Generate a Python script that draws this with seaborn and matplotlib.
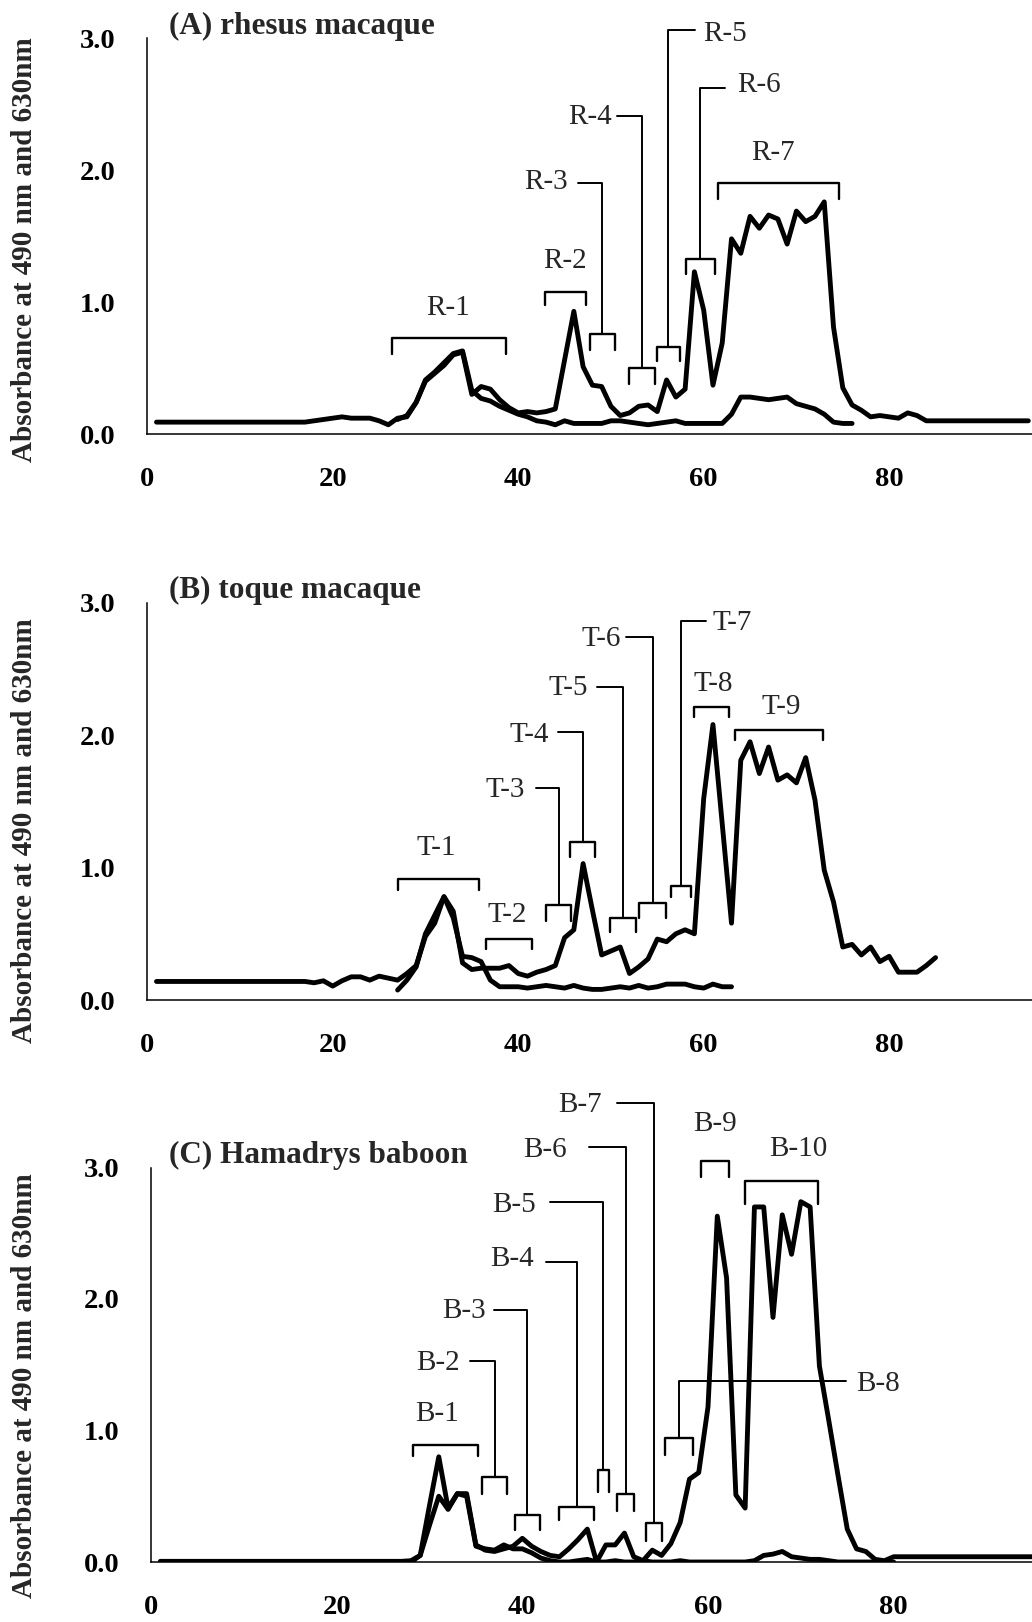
import matplotlib
matplotlib.use("Agg")
import matplotlib.pyplot as plt
import numpy as np
import pandas as pd
import seaborn as sns

# ---------------- data (fraction number vs absorbance) ----------------
# Panel A: rhesus macaque
a_x_490 = list(range(1, 96))
a_y_490 = [0.09, 0.09, 0.09, 0.09, 0.09, 0.09, 0.09, 0.09, 0.09, 0.09,
           0.09, 0.09, 0.09, 0.09, 0.09, 0.09, 0.09, 0.10, 0.11, 0.12,
           0.13, 0.12, 0.12, 0.12, 0.10, 0.07, 0.12, 0.13, 0.24, 0.40,
           0.46, 0.52, 0.60, 0.62, 0.30, 0.36, 0.34, 0.26, 0.20, 0.16,
           0.17, 0.16, 0.17, 0.19, 0.56, 0.93, 0.51, 0.37, 0.36, 0.21,
           0.14, 0.16, 0.21, 0.22, 0.17, 0.41, 0.28, 0.34, 1.23, 0.94,
           0.37, 0.69, 1.48, 1.37, 1.65, 1.56, 1.66, 1.63, 1.44, 1.69,
           1.61, 1.65, 1.76, 0.81, 0.35, 0.22, 0.18, 0.13, 0.14, 0.13,
           0.12, 0.16, 0.14, 0.10, 0.10, 0.10, 0.10, 0.10, 0.10, 0.10,
           0.10, 0.10, 0.10, 0.10, 0.10]
a_x_630 = list(range(27, 77))
a_y_630 = [0.11, 0.14, 0.24, 0.41, 0.47, 0.54, 0.61, 0.63, 0.33, 0.27,
           0.25, 0.21, 0.18, 0.15, 0.13, 0.10, 0.09, 0.07, 0.10, 0.08,
           0.08, 0.08, 0.08, 0.10, 0.10, 0.09, 0.08, 0.07, 0.08, 0.09,
           0.10, 0.08, 0.08, 0.08, 0.08, 0.08, 0.15, 0.28, 0.28, 0.27,
           0.26, 0.27, 0.28, 0.23, 0.21, 0.19, 0.15, 0.09, 0.08, 0.08]

# Panel B: toque macaque
b_x_490 = list(range(1, 86))
b_y_490 = [0.14, 0.14, 0.14, 0.14, 0.14, 0.14, 0.14, 0.14, 0.14, 0.14,
           0.14, 0.14, 0.14, 0.14, 0.14, 0.14, 0.14, 0.13, 0.145, 0.105,
           0.145, 0.175, 0.175, 0.15, 0.18, 0.165, 0.15, 0.20, 0.26, 0.48,
           0.58, 0.78, 0.67, 0.28, 0.23, 0.24, 0.24, 0.24, 0.26, 0.20,
           0.18, 0.21, 0.23, 0.26, 0.47, 0.53, 1.03, 0.68, 0.34, 0.37,
           0.40, 0.20, 0.25, 0.31, 0.46, 0.44, 0.50, 0.53, 0.50, 1.52,
           2.08, 1.33, 0.58, 1.81, 1.95, 1.71, 1.91, 1.66, 1.70, 1.64,
           1.83, 1.51, 0.98, 0.74, 0.40, 0.42, 0.34, 0.40, 0.29, 0.33,
           0.21, 0.21, 0.21, 0.26, 0.32]
b_x_630 = list(range(27, 64))
b_y_630 = [0.075, 0.15, 0.25, 0.50, 0.64, 0.78, 0.62, 0.33, 0.32, 0.29,
           0.15, 0.10, 0.10, 0.10, 0.09, 0.10, 0.11, 0.10, 0.09, 0.11,
           0.09, 0.08, 0.08, 0.09, 0.10, 0.09, 0.11, 0.09, 0.10, 0.12,
           0.12, 0.12, 0.10, 0.09, 0.12, 0.10, 0.10]

# Panel C: Hamadrys baboon
c_x_490 = list(range(1, 96))
c_y_490 = [0.005, 0.005, 0.005, 0.005, 0.005, 0.005, 0.005, 0.005, 0.005, 0.005,
           0.005, 0.005, 0.005, 0.005, 0.005, 0.005, 0.005, 0.005, 0.005, 0.005,
           0.005, 0.005, 0.005, 0.005, 0.005, 0.005, 0.005, 0.01, 0.05, 0.43,
           0.80, 0.41, 0.52, 0.52, 0.13, 0.09, 0.08, 0.10, 0.12, 0.18,
           0.12, 0.08, 0.05, 0.04, 0.10, 0.17, 0.25, 0.00, 0.13, 0.13,
           0.22, 0.04, 0.01, 0.09, 0.05, 0.14, 0.30, 0.63, 0.68, 1.18,
           2.63, 2.16, 0.51, 0.41, 2.70, 2.70, 1.86, 2.64, 2.34, 2.74,
           2.70, 1.49, 1.08, 0.66, 0.25, 0.10, 0.08, 0.02, 0.01, 0.04,
           0.04, 0.04, 0.04, 0.04, 0.04, 0.04, 0.04, 0.04, 0.04, 0.04,
           0.04, 0.04, 0.04, 0.04, 0.04]
c_x_630 = list(range(22, 81))
c_y_630 = [0.00, 0.00, 0.00, 0.00, 0.00, 0.00, 0.00, 0.05, 0.28, 0.50,
           0.40, 0.52, 0.50, 0.12, 0.10, 0.09, 0.13, 0.10, 0.10, 0.07,
           0.03, 0.01, 0.00, 0.00, 0.01, 0.02, 0.00, 0.00, 0.01, 0.00,
           0.00, 0.01, 0.00, 0.00, 0.00, 0.01, 0.00, 0.00, 0.00, 0.00,
           0.00, 0.00, 0.00, 0.01, 0.05, 0.06, 0.08, 0.04, 0.03, 0.02,
           0.02, 0.01, 0.00, 0.00, 0.00, 0.00, 0.00, 0.00, 0.00]

panel_titles = ["(A) rhesus macaque", "(B) toque macaque", "(C) Hamadrys baboon"]
y_label = "Absorbance at 490 nm and 630nm"
y_ticks = [0, 1, 2, 3]
y_tick_labels = ["0.0", "1.0", "2.0", "3.0"]
x_ticks = [0, 20, 40, 60, 80]
x_tick_labels = ["0", "20", "40", "60", "80"]

# fraction labels: (text, bracket x0, bracket x1, bracket top y, depth, kind, ...)
#  kind 'top'   -> label centred above: (label x, label baseline y)
#  kind 'left'/'right' -> leader: (leader y, leader end x, label x, label baseline y)
a_marks = [
    ("R-1", 26.4, 38.7, 0.725, 0.115, "top", 32.4, 0.90),
    ("R-2", 42.9, 47.3, 1.08, 0.10, "top", 45.0, 1.256),
    ("R-3", 47.7, 50.4, 0.76, 0.12, "left", 1.90, 46.5, 45.4, 1.855),
    ("R-4", 52.0, 54.7, 0.50, 0.12, "left", 2.41, 50.7, 50.1, 2.35),
    ("R-5", 55.0, 57.4, 0.66, 0.11, "right", 3.06, 59.1, 59.9, 2.98),
    ("R-6", 58.1, 61.2, 1.33, 0.12, "right", 2.62, 62.3, 63.65, 2.595),
    ("R-7", 61.5, 74.6, 1.90, 0.12, "top", 67.5, 2.08),
]
b_marks = [
    ("T-1", 27.0, 35.8, 0.91, 0.08, "top", 31.2, 1.095),
    ("T-2", 36.5, 41.5, 0.46, 0.075, "top", 38.8, 0.59),
    ("T-3", 43.05, 45.65, 0.72, 0.12, "left", 1.60, 41.9, 40.7, 1.535),
    ("T-4", 45.6, 48.3, 1.19, 0.11, "left", 2.02, 44.3, 43.3, 1.95),
    ("T-5", 49.9, 52.75, 0.62, 0.11, "left", 2.36, 48.5, 47.5, 2.30),
    ("T-6", 53.05, 55.95, 0.73, 0.11, "left", 2.74, 51.6, 51.1, 2.67),
    ("T-7", 56.5, 58.6, 0.86, 0.08, "right", 2.86, 60.2, 60.9, 2.795),
    ("T-8", 59.0, 62.7, 2.215, 0.08, "top", 61.0, 2.336),
    ("T-9", 63.4, 72.9, 2.04, 0.08, "top", 68.4, 2.16),
]
c_marks = [
    ("B-1", 28.2, 35.2, 0.886, 0.08, "top", 30.8, 1.07),
    ("B-2", 35.7, 38.4, 0.645, 0.125, "left", 1.53, 34.4, 33.3, 1.46),
    ("B-3", 39.2, 41.9, 0.36, 0.12, "left", 1.92, 36.9, 36.1, 1.855),
    ("B-4", 44.0, 47.75, 0.42, 0.10, "left", 2.283, 42.5, 41.3, 2.25),
    ("B-5", 48.1, 49.3, 0.70, 0.165, "left", 2.736, 43.0, 41.45, 2.66),
    ("B-6", 50.25, 52.05, 0.515, 0.125, "left", 3.158, 47.2, 44.8, 3.08),
    ("B-7", 53.3, 55.0, 0.296, 0.135, "left", 3.492, 50.2, 48.6, 3.42),
    ("B-8", 55.4, 58.4, 0.94, 0.125, "right", 1.375, 74.9, 76.0, 1.30),
    ("B-9", 59.2, 62.3, 3.05, 0.12, "top", 60.8, 3.28),
    ("B-10", 64.0, 71.8, 2.90, 0.18, "top", 69.7, 3.09),
]

# ---------------- styling ----------------
sns.set_theme(style="white")
plt.rcParams["font.family"] = ["Liberation Serif", "DejaVu Serif"]
plt.rcParams["lines.solid_joinstyle"] = "round"
plt.rcParams["lines.solid_capstyle"] = "round"

W, H = 1032, 1622
fig = plt.figure(figsize=(W / 100, H / 100), dpi=100)
fig.patch.set_facecolor("white")

# (left px, y0 px, y3 px, xmax, title x, ylabel centre px)
layouts = [
    (147.2, 434.0, 38.3, 95.4, 2.3, 250),
    (147.2, 1000.0, 602.7, 95.4, 2.3, 831),
    (151.0, 1562.0, 1167.5, 94.9, 1.9, 1386),
]

series = [
    (a_x_490, a_y_490, a_x_630, a_y_630, a_marks),
    (b_x_490, b_y_490, b_x_630, b_y_630, b_marks),
    (c_x_490, c_y_490, c_x_630, c_y_630, c_marks),
]

ANN_FS = 21
for i, ((lpx, y0px, y3px, xmax, tx, ylc), (x1, y1, x2, y2, marks)) in enumerate(zip(layouts, series)):
    rect = [lpx / W, 1 - y0px / H, 1 - lpx / W, (y0px - y3px) / H]
    ax = fig.add_axes(rect)
    ax.set_facecolor("none")
    df = pd.concat([
        pd.DataFrame({"fraction": x1, "absorbance": y1, "wavelength": "490 nm"}),
        pd.DataFrame({"fraction": x2, "absorbance": y2, "wavelength": "630 nm"}),
    ], ignore_index=True)
    sns.lineplot(data=df, x="fraction", y="absorbance", hue="wavelength",
                 palette=["black", "black"], estimator=None, sort=False,
                 linewidth=3.5, legend=False, ax=ax, zorder=3)
    ax.set_xlim(0, xmax)
    ax.set_ylim(0, 3)
    ax.set_xlabel("")
    ax.set_ylabel("")
    ax.set_xticks(x_ticks)
    ax.set_xticklabels(x_tick_labels, fontweight="bold", fontsize=20.5)
    ax.set_yticks(y_ticks)
    ax.set_yticklabels(y_tick_labels, fontweight="bold", fontsize=20.5)
    ax.tick_params(axis="x", direction="in", length=6, width=1, pad=24, colors="black")
    ax.tick_params(axis="y", direction="in", length=6, width=1, pad=23, colors="black")
    for s in ["top", "right"]:
        ax.spines[s].set_visible(False)
    for s in ["left", "bottom"]:
        ax.spines[s].set_color("black")
        ax.spines[s].set_linewidth(1.1)

    ax.text(tx, 3.035, panel_titles[i], fontsize=22.5, fontweight="bold",
            ha="left", va="baseline", clip_on=False)
    fig.text(0.024, 1 - ylc / H, y_label, rotation=90, fontsize=21,
             fontweight="bold", ha="center", va="center")

    for m in marks:
        lab, bx0, bx1, by, d, kind = m[:6]
        ax.plot([bx0, bx0, bx1, bx1], [by - d, by, by, by - d], color="black",
                lw=1.7, clip_on=False, zorder=4)
        xc = (bx0 + bx1) / 2
        if kind == "top":
            lx, lyb = m[6], m[7]
            ax.text(lx, lyb, lab, fontsize=ANN_FS, ha="center", va="baseline",
                    clip_on=False)
        else:
            ly, lend, lx, lyb = m[6], m[7], m[8], m[9]
            ax.plot([xc, xc, lend], [by, ly, ly], color="black", lw=1.4,
                    clip_on=False, zorder=4)
            ax.text(lx, lyb, lab, fontsize=ANN_FS,
                    ha="right" if kind == "left" else "left", va="baseline",
                    clip_on=False)

fig.savefig("out.png", dpi=100, facecolor="white")
